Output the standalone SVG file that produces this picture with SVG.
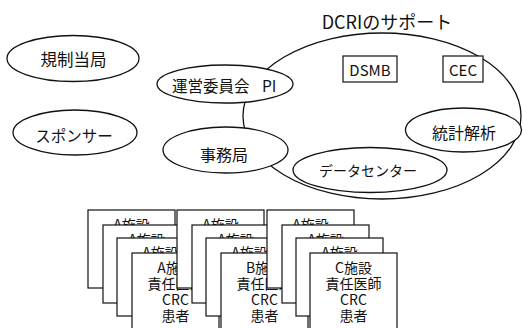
<svg xmlns="http://www.w3.org/2000/svg" width="523" height="328" viewBox="0 0 523 328">
<style>
  .e { fill: #fff; stroke: #111; stroke-width: 1.3; }
  .big { fill: none; stroke: #111; stroke-width: 1.3; }
  .box { fill: #fff; stroke: #111; stroke-width: 1.2; }
  .card { fill: #fff; stroke: #111; stroke-width: 1.2; }
  .t { font-family: "Noto Sans CJK JP", "DejaVu Sans", sans-serif; fill: #111; }
  .c { text-anchor: middle; dominant-baseline: central; }
  .ct { text-anchor: middle; font-size: 14px; }
</style>
<defs>
  <clipPath id="clipA1"><rect x="88" y="210" width="87" height="15"/></clipPath>
  <clipPath id="clipA2"><rect x="103" y="225" width="87" height="13"/></clipPath>
  <clipPath id="clipA3"><rect x="117" y="238" width="87" height="15"/></clipPath>
  <clipPath id="clipB1"><rect x="177" y="210" width="87" height="15"/></clipPath>
  <clipPath id="clipB2"><rect x="192" y="225" width="87" height="13"/></clipPath>
  <clipPath id="clipB3"><rect x="206" y="238" width="87" height="15"/></clipPath>
  <clipPath id="clipC1"><rect x="267" y="210" width="87" height="15"/></clipPath>
  <clipPath id="clipC2"><rect x="282" y="225" width="87" height="13"/></clipPath>
  <clipPath id="clipC3"><rect x="296" y="238" width="87" height="15"/></clipPath>
</defs>
<rect width="523" height="328" fill="#fff"/>

<g id="dcri-support">
  <ellipse class="big" cx="382" cy="116" rx="139" ry="83"/>
  <text class="t c" x="387" y="21" font-size="18">DCRIのサポート</text>
</g>

<g id="kisei">
  <ellipse class="e" cx="73" cy="58.5" rx="66" ry="23"/>
  <text class="t c" x="73.5" y="58.5" font-size="16.5">規制当局</text>
</g>
<g id="sponsor">
  <ellipse class="e" cx="75" cy="132.5" rx="62" ry="22.5"/>
  <text class="t c" x="74" y="135" font-size="15.5">スポンサー</text>
</g>
<g id="unei">
  <ellipse class="e" cx="225" cy="84" rx="68" ry="19"/>
  <text class="t" x="172" y="85" font-size="15.5" dominant-baseline="central">運営委員会 <tspan x="262">PI</tspan></text>
</g>
<g id="jimukyoku">
  <ellipse class="e" cx="225.5" cy="150" rx="62.5" ry="23"/>
  <text class="t c" x="224" y="154" font-size="16">事務局</text>
</g>
<g id="dsmb">
  <rect class="box" x="343" y="56" width="54" height="26"/>
  <text class="t c" x="370" y="69" font-size="15">DSMB</text>
</g>
<g id="cec">
  <rect class="box" x="443" y="56" width="40" height="26"/>
  <text class="t c" x="463" y="69" font-size="15">CEC</text>
</g>
<g id="toukei">
  <ellipse class="e" cx="463.5" cy="130" rx="58" ry="22"/>
  <text class="t c" x="464" y="131.5" font-size="16">統計解析</text>
</g>
<g id="datacenter">
  <ellipse class="e" cx="370" cy="170" rx="77" ry="22.5"/>
  <text class="t c" x="368" y="170" font-size="14">データセンター</text>
</g>

<g id="connectors"></g>

<g id="stack-a">
  <rect class="card" x="88" y="210" width="87" height="78"/>
  <text class="t ct" x="131.5" y="230" clip-path="url(#clipA1)">A施設</text>
  <rect class="card" x="103" y="225" width="87" height="78"/>
  <text class="t ct" x="146.5" y="245" clip-path="url(#clipA2)">A施設</text>
  <rect class="card" x="117" y="238" width="87" height="78"/>
  <text class="t ct" x="160.5" y="258" clip-path="url(#clipA3)">A施設</text>
  <rect class="card" x="132" y="253" width="87" height="78"/>
  <text class="t ct" x="175.5" y="273">A施設</text>
  <text class="t ct" x="175.5" y="289">責任医師</text>
  <text class="t ct" x="175.5" y="305">CRC</text>
  <text class="t ct" x="175.5" y="321">患者</text>
</g>

<g id="stack-b">
  <rect class="card" x="177" y="210" width="87" height="78"/>
  <text class="t ct" x="220.5" y="230" clip-path="url(#clipB1)">A施設</text>
  <rect class="card" x="192" y="225" width="87" height="78"/>
  <text class="t ct" x="235.5" y="245" clip-path="url(#clipB2)">A施設</text>
  <rect class="card" x="206" y="238" width="87" height="78"/>
  <text class="t ct" x="249.5" y="258" clip-path="url(#clipB3)">A施設</text>
  <rect class="card" x="221" y="253" width="87" height="78"/>
  <text class="t ct" x="264.5" y="273">B施設</text>
  <text class="t ct" x="264.5" y="289">責任医師</text>
  <text class="t ct" x="264.5" y="305">CRC</text>
  <text class="t ct" x="264.5" y="321">患者</text>
</g>

<g id="stack-c">
  <rect class="card" x="267" y="210" width="87" height="78"/>
  <text class="t ct" x="310.5" y="230" clip-path="url(#clipC1)">A施設</text>
  <rect class="card" x="282" y="225" width="87" height="78"/>
  <text class="t ct" x="325.5" y="245" clip-path="url(#clipC2)">A施設</text>
  <rect class="card" x="296" y="238" width="87" height="78"/>
  <text class="t ct" x="339.5" y="258" clip-path="url(#clipC3)">A施設</text>
  <rect class="card" x="310" y="253" width="87" height="78"/>
  <text class="t ct" x="353.5" y="273">C施設</text>
  <text class="t ct" x="353.5" y="289">責任医師</text>
  <text class="t ct" x="353.5" y="305">CRC</text>
  <text class="t ct" x="353.5" y="321">患者</text>
</g>
</svg>
